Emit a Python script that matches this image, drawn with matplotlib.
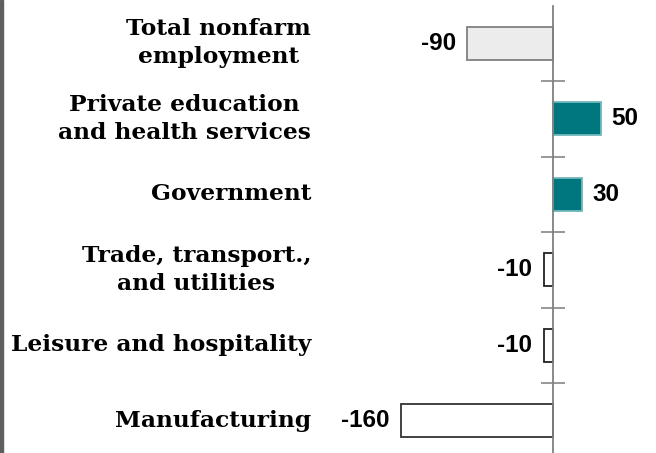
import matplotlib
matplotlib.use('Agg')
import matplotlib.pyplot as plt
import matplotlib.transforms as mtransforms
import matplotlib.font_manager as fm
from matplotlib.patches import Rectangle

# 데이터
categories = ['Total nonfarm\nemployment', 'Private education\nand health services', 'Government',
              'Trade, transport.,\nand utilities', 'Leisure and hospitality', 'Manufacturing']
values = [-90, 50, 30, -10, -10, -160]
fills = ['#ececec', '#00767f', '#00767f', 'white', 'white', 'white']
edges = ['#808080', '#6fb8bd', '#6fb8bd', '#222222', '#222222', '#333333']

# 폰트 설정
val_font = fm.FontProperties(family='DejaVu Sans', weight='bold', size=17)
for f in fm.findSystemFonts():
    if f.endswith('LiberationSans-Bold.ttf'):
        val_font = fm.FontProperties(fname=f, size=17.5)
        break

W, H = 656, 453
fig = plt.figure(figsize=(W / 100, H / 100), dpi=100)

# 축 위치 (픽셀 기준)
px_per_unit = 0.95
zero_px = 553
xmin, xmax = -170, 110
left_px = zero_px + xmin * px_per_unit
width_px = (xmax - xmin) * px_per_unit
top_px, bot_px = 5.5, 458.5
ax = fig.add_axes([left_px / W, (H - bot_px) / H, width_px / W, (bot_px - top_px) / H])

n = len(categories)
ypos = list(range(n))
ax.barh(ypos, values, height=0.44, color=fills, edgecolor=edges, linewidth=1.3, zorder=2)

ax.set_xlim(xmin, xmax)
ax.set_ylim(n - 0.5, -0.5)

for s in ['top', 'right', 'bottom']:
    ax.spines[s].set_visible(False)
ax.spines['left'].set_position(('data', 0))
ax.spines['left'].set_color('#808080')
ax.spines['left'].set_linewidth(1.3)
ax.spines['left'].set_zorder(3)
ax.set_xticks([])
ax.set_yticks([])
ax.set_yticks([i + 0.5 for i in range(n - 1)], minor=True)
ax.tick_params(axis='y', which='minor', direction='inout', length=17, width=1.3, color='#909090')
ax.tick_params(axis='y', which='minor', labelleft=False)

# 카테고리 라벨
trans = mtransforms.blended_transform_factory(fig.transFigure, ax.transData)
for y, lab in zip(ypos, categories):
    ax.text(311 / W, y, lab, transform=trans, ha='right', va='center', multialignment='center',
            fontsize=16.8, fontweight='bold', family='DejaVu Serif', linespacing=1.35)

# 값 라벨
for y, v in zip(ypos, values):
    if v < 0:
        ax.annotate(f'{v}', (v, y), xytext=(-8, 0), textcoords='offset points',
                    ha='right', va='center', fontproperties=val_font)
    else:
        ax.annotate(f'{v}', (v, y), xytext=(8, 0), textcoords='offset points',
                    ha='left', va='center', fontproperties=val_font)

# 왼쪽 테두리
fig.add_artist(Rectangle((0, 0), 3 / W, 1, transform=fig.transFigure, color='#5f5f5f'))

fig.savefig('out.png', dpi=100)
